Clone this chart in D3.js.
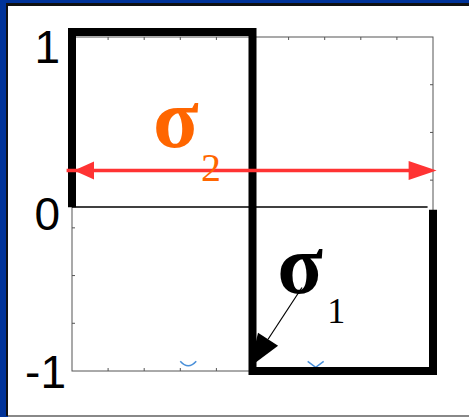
<!DOCTYPE html>
<html>
<head>
<meta charset="utf-8">
<script src="https://cdn.jsdelivr.net/npm/d3@7"></script>
<style>
  body { margin: 0; overflow: hidden; background: #fff; }
</style>
</head>
<body>
<div id="container"></div>
<script>
/* CONSTANTS AND GLOBALS */
const width = 469;
const height = 417;

// square wave (x in box units 0..10, y in -1..1)
const waveX = [0, 0, 5, 5, 10, 10];
const waveY = [-0.02, 1.03, 1.03, -1, -1, -0.035];

// tick labels on the left
const tickValues = [1, 0, -1];
const tickLabels = ["1", "0", "-1"];

// red double arrow (sigma 2) and black arrow (sigma 1)
const redArrowX = [-0.15, 10.1];
const redArrowY = 0.2;
const blackArrowX = [6.37, 4.93];
const blackArrowY = [-0.5, -0.975];

// labels
const sigmaNames = ["σ", "σ"];
const sigmaSubs = ["2", "1"];
const sigmaX = [2.33, 5.77];
const sigmaY = [0.34, -0.53];
const sigmaColors = ["#ff6600", "#000000"];

// small blue marks near the bottom
const markX = [3.22, 6.75];
const markY = [-0.96, -0.96];

/* HTML ELEMENTS */
const svg = d3.select("#container")
    .append("svg")
    .attr("width", width)
    .attr("height", height)

// frame
svg.append("rect").attr("width", width).attr("height", height).attr("fill", "#003399")
svg.append("rect").attr("x", 6).attr("y", 3).attr("width", width - 6).attr("height", 413).attr("fill", "#111")
svg.append("rect").attr("x", 8).attr("y", 6).attr("width", width - 8).attr("height", 409).attr("fill", "#fff")
svg.append("rect").attr("x", 8).attr("y", 415).attr("width", width - 8).attr("height", 2).attr("fill", "#888")

/* SCALES */
const xScale = d3.scaleLinear()
    .domain([0, 10])
    .range([72, 433])

const yScale = d3.scaleLinear()
    .domain([-1, 1])
    .range([371, 37])

// axes box
svg.append("rect")
    .attr("x", xScale(0)).attr("y", yScale(1))
    .attr("width", xScale(10) - xScale(0))
    .attr("height", yScale(-1) - yScale(1))
    .attr("fill", "none")
    .attr("stroke", "#555")
    .attr("stroke-width", 1)

// ticks
const xt = d3.range(1, 10)
const yt = d3.range(1, 7).map(k => -1 + k * 2 / 7)
const tk = 3
svg.selectAll(".xtTop").data(xt).join("line")
    .attr("x1", d => xScale(d)).attr("x2", d => xScale(d))
    .attr("y1", yScale(1)).attr("y2", yScale(1) + tk)
    .attr("stroke", "#555")
svg.selectAll(".xtBot").data(xt).join("line")
    .attr("x1", d => xScale(d)).attr("x2", d => xScale(d))
    .attr("y1", yScale(-1)).attr("y2", yScale(-1) - tk)
    .attr("stroke", "#555")
svg.selectAll(".ytL").data(yt).join("line")
    .attr("x1", xScale(0)).attr("x2", xScale(0) + tk)
    .attr("y1", d => yScale(d)).attr("y2", d => yScale(d))
    .attr("stroke", "#555")
svg.selectAll(".ytR").data(yt).join("line")
    .attr("x1", xScale(10)).attr("x2", xScale(10) - tk)
    .attr("y1", d => yScale(d)).attr("y2", d => yScale(d))
    .attr("stroke", "#555")

// zero line
svg.append("line")
    .attr("x1", xScale(0)).attr("x2", xScale(9.85))
    .attr("y1", yScale(-0.018)).attr("y2", yScale(-0.018))
    .attr("stroke", "#000").attr("stroke-width", 1.5)

// y labels (the -1 sits lower and further right in the original)
svg.selectAll(".ylab").data(tickValues).join("text")
    .attr("x", d => d < 0 ? 66 : 60)
    .attr("y", d => yScale(d) + (d < 0 ? 1 : 10))
    .attr("text-anchor", "end")
    .attr("dominant-baseline", "central")
    .style("font-family", "Liberation Sans, Arial, sans-serif")
    .style("font-size", "46px")
    .attr("fill", "#000")
    .text((d, i) => tickLabels[i])

// blue marks
svg.selectAll(".mark").data(markX).join("path")
    .attr("d", (d, i) => {
        const cx = xScale(d), cy = yScale(markY[i])
        return i === 0
            ? `M${cx - 8},${cy - 3} Q${cx},${cy + 6} ${cx + 8},${cy - 3}`
            : `M${cx - 8},${cy - 3} L${cx},${cy + 3} L${cx + 8},${cy - 3}`
    })
    .attr("fill", "none")
    .attr("stroke", "#4a90d9")
    .attr("stroke-width", 1.5)

// square wave
const line = d3.line()
    .x(d => xScale(d[0]))
    .y(d => yScale(d[1]))
    .curve(d3.curveLinear)

svg.append("path")
    .datum(waveX.map((d, i) => [d, waveY[i]]))
    .attr("d", line)
    .attr("fill", "none")
    .attr("stroke", "#000")
    .attr("stroke-width", 8)
    .attr("stroke-linejoin", "miter")

// red double arrow
const ry = yScale(redArrowY)
svg.append("line")
    .attr("x1", xScale(redArrowX[0])).attr("x2", xScale(redArrowX[1]) - 10)
    .attr("y1", ry).attr("y2", ry)
    .attr("stroke", "#ff3333").attr("stroke-width", 3.5)
const lx = xScale(0) + 2, rx = xScale(redArrowX[1])
svg.append("path")
    .attr("d", `M${lx},${ry} L${lx + 20},${ry - 9} L${lx + 20},${ry + 9} Z`)
    .attr("fill", "#ff3333")
svg.append("path")
    .attr("d", `M${rx},${ry} L${rx - 28},${ry - 9.5} L${rx - 28},${ry + 9.5} Z`)
    .attr("fill", "#ff3333")

// sigma labels
const subDx = [45, 47], subDy = [34, 30]
sigmaNames.forEach((s, i) => {
    const x0 = xScale(sigmaX[i]), y0 = yScale(sigmaY[i])
    svg.append("text")
        .attr("x", x0 - 3).attr("y", y0)
        .style("font-family", "Liberation Serif, Times New Roman, serif")
        .style("font-weight", "bold")
        .style("font-size", "84px")
        .attr("fill", sigmaColors[i])
        .text(s)
    svg.append("text")
        .attr("x", x0 + subDx[i]).attr("y", y0 + subDy[i])
        .style("font-family", "Liberation Serif, Times New Roman, serif")
        .style("font-size", i === 0 ? "40px" : "36px")
        .attr("fill", sigmaColors[i])
        .text(sigmaSubs[i])
})

// black arrow
const bx1 = xScale(blackArrowX[0]), by1 = yScale(blackArrowY[0])
const bx2 = xScale(blackArrowX[1]), by2 = yScale(blackArrowY[1])
const ang = Math.atan2(by2 - by1, bx2 - bx1)
const hl = 33, hw = 12
const hbx = bx2 - hl * Math.cos(ang), hby = by2 - hl * Math.sin(ang)
svg.append("line")
    .attr("x1", bx1).attr("y1", by1).attr("x2", hbx).attr("y2", hby)
    .attr("stroke", "#000").attr("stroke-width", 1.2)
svg.append("path")
    .attr("d", `M${bx2},${by2} L${hbx - hw * Math.sin(ang)},${hby + hw * Math.cos(ang)} L${hbx + hw * Math.sin(ang)},${hby - hw * Math.cos(ang)} Z`)
    .attr("fill", "#000")
</script>
</body>
</html>
